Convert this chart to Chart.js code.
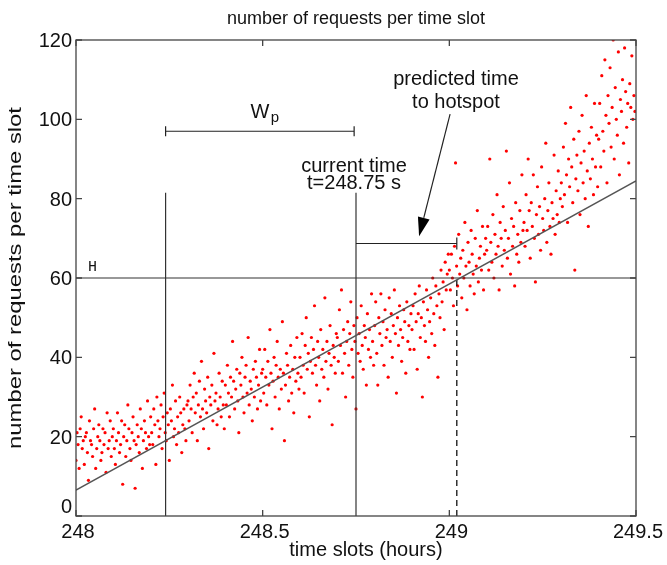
<!DOCTYPE html>
<html>
<head>
<meta charset="utf-8">
<script src="https://cdn.jsdelivr.net/npm/chart.js@4.4.1/dist/chart.umd.min.js"></script>
<style>
  html, body { margin: 0; padding: 0; background: #fff; }
  #wrap { width: 667px; height: 565px; }
</style>
</head>
<body>
<div id="wrap"><canvas id="reqChart" width="667" height="565"></canvas></div>
<script>
// time axis (hours), one slot = 10 s
const startHour = 248;
const slotHours = 1 / 360;
const xTicks = [248, 248.5, 249, 249.5];
const yTicks = [0, 20, 40, 60, 80, 100, 120];

// requests per time slot (one row ~ 0.1 h)
const reqCounts = [
  14, 21, 18, 12, 22, 25, 17, 19, 13, 20, 21, 16, 9, 24, 19, 18, 15, 22, 27, 12, 17, 20, 23, 19, 14, 16, 22, 18, 21, 11, 26, 17, 19, 24, 15, 20,
  22, 17, 13, 19, 26, 21, 16, 18, 24, 8, 20, 23, 15, 19, 28, 22, 17, 14, 21, 25, 19, 7, 18, 23, 20, 16, 27, 22, 12, 19, 24, 21, 17, 29, 20, 18,
  25, 21, 18, 27, 23, 13, 30, 24, 20, 22, 28, 17, 25, 31, 21, 19, 26, 23, 14, 27, 24, 33, 20, 22, 29, 18, 25, 21, 30, 26, 16, 23, 27, 22, 19, 28,
  29, 24, 33, 27, 21, 30, 36, 26, 31, 19, 28, 34, 25, 39, 27, 22, 32, 29, 26, 35, 17, 30, 28, 33, 24, 41, 29, 31, 23, 27, 36, 30, 25, 34, 28, 22,
  33, 28, 38, 31, 25, 35, 30, 44, 34, 27, 32, 37, 29, 21, 36, 33, 40, 30, 26, 35, 38, 31, 45, 28, 34, 32, 24, 37, 30, 39, 35, 27, 33, 42, 29, 36,
  37, 31, 42, 35, 28, 39, 33, 47, 36, 22, 34, 40, 30, 38, 44, 35, 27, 37, 32, 49, 36, 19, 33, 41, 38, 29, 35, 43, 31, 37, 26, 40, 34, 45, 36, 32,
  40, 35, 46, 38, 31, 43, 50, 37, 41, 25, 39, 45, 36, 42, 53, 38, 33, 44, 40, 29, 47, 37, 42, 35, 55, 39, 44, 32, 41, 48, 38, 23, 43, 40, 36, 46,
  45, 39, 52, 43, 57, 36, 47, 41, 30, 44, 49, 38, 46, 54, 42, 35, 48, 44, 27, 50, 41, 46, 39, 53, 43, 37, 48, 45, 33, 51, 42, 47, 40, 56, 44, 38,
  48, 54, 41, 33, 50, 46, 56, 43, 49, 38, 52, 45, 47, 35, 55, 44, 51, 40, 48, 57, 46, 31, 50, 43, 53, 47, 39, 45, 52, 49, 36, 54, 44, 48, 42, 51,
  47, 53, 42, 56, 49, 37, 51, 58, 45, 50, 30, 54, 48, 44, 57, 52, 40, 49, 55, 46, 60, 51, 43, 58, 53, 35, 56, 50, 62, 54, 59, 47, 64, 57, 61, 66,
  62, 57, 66, 60, 53, 68, 89, 63, 58, 71, 61, 65, 55, 67, 60, 74, 63, 52, 69, 64, 58, 72, 66, 61, 56, 70, 63, 77, 59, 65, 68, 62, 73, 57, 66, 70,
  67, 73, 62, 90, 69, 64, 76, 60, 71, 66, 81, 68, 57, 74, 70, 63, 78, 67, 72, 92, 65, 70, 84, 61, 75, 68, 73, 58, 79, 66, 71, 64, 77, 69, 86, 72,
  74, 68, 81, 72, 90, 77, 65, 79, 73, 86, 70, 59, 76, 83, 71, 78, 67, 88, 75, 72, 80, 94, 69, 77, 84, 73, 66, 79, 75, 91, 71, 82, 76, 87, 74, 80,
  84, 78, 93, 81, 99, 86, 74, 90, 83, 103, 88, 79, 95, 62, 85, 91, 82, 97, 76, 89, 101, 84, 92, 80, 106, 87, 73, 94, 85, 98, 90, 81, 104, 88, 96, 83,
  95, 104, 88, 111, 97, 92, 115, 101, 84, 106, 99, 113, 93, 103, 120, 90, 108, 100, 96, 117, 86, 105, 102, 110, 94, 118, 107, 98, 104, 89, 109, 103, 116, 100, 106, 102
];

// fitted trend line
const fitX = [248, 249.5];
const fitY = [6.5, 84.5];

// annotation values
const hotspotLevel = 60;
const windowStart = 248.24;
const currentTime = 248.75;
const predictedTime = 249.02;
const markerTop = 81.5;
const wpLevel = 97;
const predLevel = 68.7;
const arrowFrom = [249.002, 101.3];
const arrowTo = [248.919, 70.5];

const FONT = "'Liberation Sans', Arial, Helvetica, sans-serif";

const points = reqCounts.map((v, i) => ({ x: startHour + i * slotHours, y: v }));

function seg(x1, y1, x2, y2) {
  return [{ x: x1, y: y1 }, { x: x2, y: y2 }];
}

function lineSet(data, color, width, dash) {
  return {
    data: data,
    showLine: true,
    borderColor: color,
    borderWidth: width,
    borderDash: dash || [],
    pointRadius: 0,
    fill: false,
    order: 1
  };
}

function drawText(ctx, str, x, y, size, align, font) {
  ctx.font = size + 'px ' + (font || FONT);
  ctx.textAlign = align || 'center';
  ctx.textBaseline = 'alphabetic';
  ctx.fillText(str, x, y);
}

// frame, inward ticks, labels, brackets and arrow
const decorations = {
  id: 'decorations',
  afterDraw(chart) {
    const ctx = chart.ctx;
    const xs = chart.scales.x, ys = chart.scales.y;
    const a = chart.chartArea;
    ctx.save();
    ctx.strokeStyle = '#444';
    ctx.lineWidth = 1.3;
    ctx.strokeRect(a.left, a.top, a.right - a.left, a.bottom - a.top);

    ctx.beginPath();
    xTicks.forEach(v => {
      const px = xs.getPixelForValue(v);
      ctx.moveTo(px, a.bottom); ctx.lineTo(px, a.bottom - 6);
      ctx.moveTo(px, a.top); ctx.lineTo(px, a.top + 6);
    });
    yTicks.forEach(v => {
      const py = ys.getPixelForValue(v);
      ctx.moveTo(a.left, py); ctx.lineTo(a.left + 6, py);
      ctx.moveTo(a.right, py); ctx.lineTo(a.right - 6, py);
    });
    ctx.stroke();

    ctx.fillStyle = '#111';
    xTicks.forEach(v => {
      drawText(ctx, String(v), xs.getPixelForValue(v) + 2, a.bottom + 22, 20);
    });
    yTicks.forEach(v => {
      let base = ys.getPixelForValue(v) + 7;
      base = Math.min(base, a.bottom - 3);
      drawText(ctx, String(v), a.left - 4, base, 20, 'right');
    });

    drawText(ctx, 'number of requests per time slot', 356, 24, 18);
    drawText(ctx, 'time slots (hours)', 366, 556, 20);

    // y title, stretched along its length like the original
    const yTitle = 'number of requests per time slot';
    ctx.save();
    ctx.font = '18px ' + FONT;
    const w = ctx.measureText(yTitle).width;
    ctx.translate(21, (a.top + a.bottom) / 2);
    ctx.rotate(-Math.PI / 2);
    ctx.scale(342 / w, 1);
    drawText(ctx, yTitle, 0, 0, 18);
    ctx.restore();

    // annotation texts
    drawText(ctx, 'H', 88, 271, 15, 'left', "'Liberation Mono', 'Courier New', monospace");
    drawText(ctx, 'W', 260, 118, 20);
    drawText(ctx, 'p', 275, 122, 15);
    drawText(ctx, 'current time', 354, 172, 20);
    drawText(ctx, 't=248.75 s', 354, 189, 20);
    drawText(ctx, 'predicted time', 456, 85, 20);
    drawText(ctx, 'to hotspot', 456, 108, 20);

    // brackets
    ctx.strokeStyle = '#222';
    ctx.lineWidth = 1.2;
    const wl = xs.getPixelForValue(windowStart), wr = xs.getPixelForValue(currentTime - 0.005);
    const wy = ys.getPixelForValue(wpLevel);
    ctx.beginPath();
    ctx.moveTo(wl, wy); ctx.lineTo(wr, wy);
    ctx.moveTo(wl, wy - 5); ctx.lineTo(wl, wy + 5);
    ctx.moveTo(wr, wy - 5); ctx.lineTo(wr, wy + 5);
    const pl = xs.getPixelForValue(currentTime), pr = xs.getPixelForValue(predictedTime);
    const py = ys.getPixelForValue(predLevel);
    ctx.moveTo(pl, py); ctx.lineTo(pr, py);
    ctx.moveTo(pr, py - 6); ctx.lineTo(pr, py + 6);
    ctx.stroke();

    // arrow
    const x1 = xs.getPixelForValue(arrowFrom[0]), y1 = ys.getPixelForValue(arrowFrom[1]);
    const x2 = xs.getPixelForValue(arrowTo[0]), y2 = ys.getPixelForValue(arrowTo[1]);
    const ang = Math.atan2(y2 - y1, x2 - x1);
    const hl = 19, hw = 6;
    const bx = x2 - hl * Math.cos(ang), by = y2 - hl * Math.sin(ang);
    ctx.beginPath();
    ctx.moveTo(x1, y1); ctx.lineTo(bx, by);
    ctx.stroke();
    ctx.fillStyle = '#000';
    ctx.beginPath();
    ctx.moveTo(x2, y2);
    ctx.lineTo(bx + hw * Math.sin(ang), by - hw * Math.cos(ang));
    ctx.lineTo(bx - hw * Math.sin(ang), by + hw * Math.cos(ang));
    ctx.closePath();
    ctx.fill();
    ctx.restore();
  }
};

new Chart(document.getElementById('reqChart'), {
  type: 'scatter',
  data: {
    datasets: [
      lineSet(seg(fitX[0], fitY[0], fitX[1], fitY[1]), '#555', 1.5),
      lineSet(seg(startHour, hotspotLevel, 249.5, hotspotLevel), '#333', 1.2),
      lineSet(seg(windowStart, 0, windowStart, markerTop), '#333', 1.2),
      lineSet(seg(currentTime, 0, currentTime, markerTop), '#333', 1.2),
      lineSet(seg(predictedTime, 0, predictedTime, hotspotLevel), '#111', 1.3, [6, 4]),
      {
        data: points,
        backgroundColor: '#ff0000',
        borderWidth: 0,
        pointRadius: 1.6,
        order: 10
      }
    ]
  },
  options: {
    responsive: false,
    animation: false,
    devicePixelRatio: 1,
    events: [],
    layout: { padding: { top: 40, right: 31, left: 0, bottom: 0 } },
    plugins: { legend: { display: false }, tooltip: { enabled: false }, title: { display: false } },
    scales: {
      x: {
        type: 'linear', min: 248, max: 249.5,
        grid: { display: false }, border: { display: false },
        ticks: { display: false },
        afterFit(scale) { scale.height = 49; }
      },
      y: {
        type: 'linear', min: 0, max: 120,
        grid: { display: false }, border: { display: false },
        ticks: { display: false },
        afterFit(scale) { scale.width = 76; }
      }
    }
  },
  plugins: [decorations]
});
</script>
</body>
</html>
